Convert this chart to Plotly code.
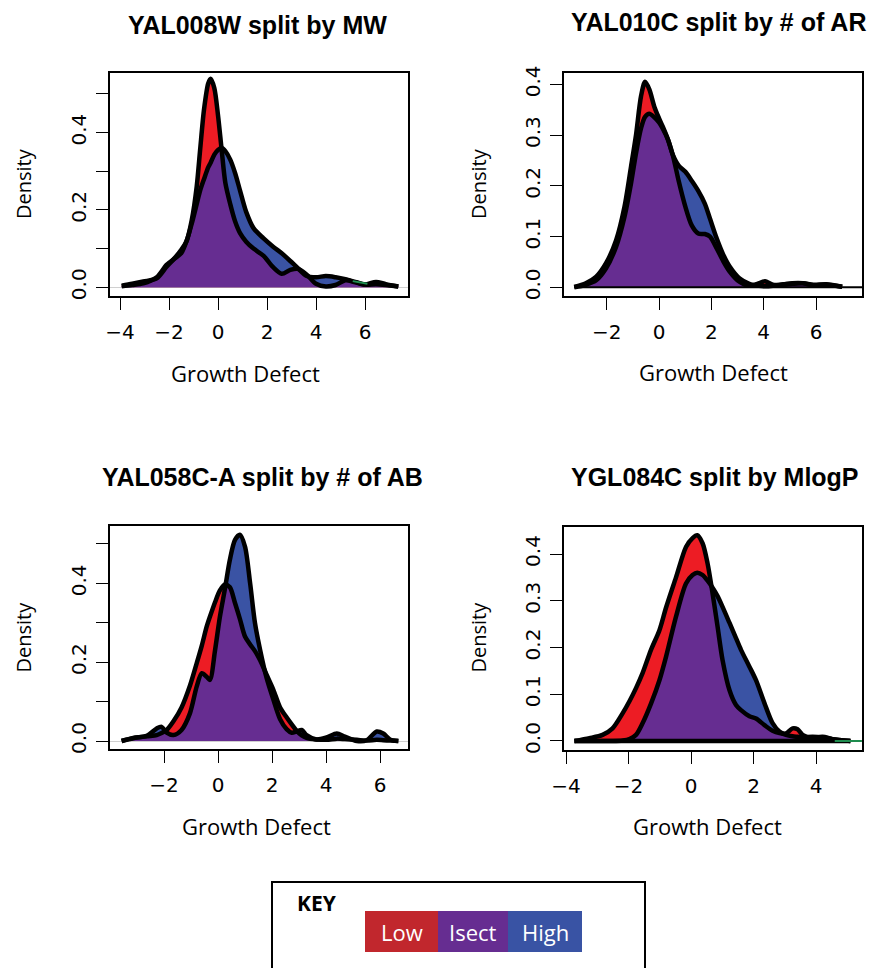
import plotly.graph_objects as go

# ---------------- data ----------------
titles = ["YAL008W split by MW", "YAL010C split by # of AR",
          "YAL058C-A split by # of AB", "YGL084C split by MlogP"]
x_label = "Growth Defect"
y_label = "Density"
key_title = "KEY"
key_labels = ["Low", "Isect", "High"]

# Panel 1 : YAL008W split by MW
p1_x = [-3.93, -3.5, -3.05, -2.5, -2.1, -1.75, -1.5, -1.28, -1.07, -0.87, -0.73, -0.57, -0.4, -0.3,
        -0.15, 0.0, 0.15, 0.3, 0.5, 0.7, 0.9, 1.15, 1.45, 1.85, 2.25, 2.6, 2.95, 3.25, 3.6, 4.0,
        4.4, 4.8, 5.2, 5.6, 6.0, 6.45, 6.85, 7.36]
p1_low = [0.004, 0.009, 0.015, 0.023, 0.053, 0.077, 0.097, 0.12, 0.174, 0.26, 0.355, 0.46, 0.527, 0.539,
          0.515, 0.445, 0.355, 0.27, 0.215, 0.17, 0.14, 0.118, 0.1, 0.082, 0.052, 0.035, 0.045, 0.048,
          0.034, 0.009, 0.002, 0.006, 0.018, 0.013, 0.007, 0.014, 0.008, 0.002]
p1_high = [0.003, 0.006, 0.01, 0.026, 0.058, 0.075, 0.088, 0.12, 0.165, 0.215, 0.25, 0.28, 0.31, 0.322,
           0.343, 0.355, 0.36, 0.352, 0.33, 0.295, 0.25, 0.195, 0.153, 0.127, 0.105, 0.088, 0.068, 0.05,
           0.03, 0.026, 0.029, 0.026, 0.021, 0.014, 0.007, 0.008, 0.006, 0.002]
p1_other_x = [5.5, 5.8, 6.1]
p1_other_y = [0.016, 0.013, 0.009]

# Panel 2 : YAL010C split by # of AR
p2_x = [-3.24, -2.8, -2.4, -2.03, -1.64, -1.32, -1.07, -0.88, -0.69, -0.535, -0.37, -0.18, 0.0, 0.14,
        0.35, 0.52, 0.75, 1.0, 1.25, 1.5, 1.75, 1.95, 2.2, 2.45, 2.7, 3.07, 3.45, 3.83, 4.05, 4.35,
        4.75, 5.1, 5.5, 5.9, 6.4, 7.0]
p2_low = [0.001, 0.008, 0.021, 0.047, 0.093, 0.159, 0.238, 0.30, 0.376, 0.405, 0.39, 0.356, 0.333, 0.317,
          0.29, 0.262, 0.21, 0.16, 0.122, 0.106, 0.105, 0.1, 0.077, 0.052, 0.031, 0.011, 0.003, 0.008,
          0.012, 0.005, 0.005, 0.007, 0.008, 0.004, 0.005, 0.001]
p2_high = [0.0, 0.005, 0.014, 0.037, 0.08, 0.139, 0.205, 0.264, 0.313, 0.336, 0.342, 0.335, 0.325, 0.313,
           0.29, 0.262, 0.24, 0.228, 0.21, 0.19, 0.165, 0.135, 0.097, 0.065, 0.041, 0.018, 0.007, 0.003,
           0.002, 0.003, 0.006, 0.008, 0.008, 0.005, 0.006, 0.001]

# Panel 3 : YAL058C-A split by # of AB
p3_x = [-3.57, -3.14, -2.64, -2.27, -2.09, -1.9, -1.65, -1.35, -1.04, -0.79, -0.6, -0.42, -0.3, -0.11,
        0.07, 0.26, 0.44, 0.63, 0.81, 1.0, 1.19, 1.37, 1.56, 1.8, 2.05, 2.3, 2.54, 2.73, 2.91, 3.1,
        3.28, 3.65, 4.02, 4.4, 4.7, 5.14, 5.51, 5.88, 6.12, 6.37, 6.68]
p3_low = [0.0, 0.007, 0.012, 0.015, 0.02, 0.028, 0.05, 0.085, 0.14, 0.197, 0.242, 0.29, 0.315, 0.352,
          0.382, 0.397, 0.39, 0.35, 0.31, 0.265, 0.245, 0.228, 0.205, 0.168, 0.13, 0.085, 0.06, 0.042,
          0.026, 0.014, 0.008, 0.004, 0.003, 0.006, 0.005, 0.003, 0.001, 0.003, 0.002, 0.001, 0.0]
p3_high = [0.0, 0.008, 0.013, 0.032, 0.036, 0.021, 0.015, 0.028, 0.07, 0.138, 0.172, 0.163, 0.155, 0.23,
           0.315, 0.387, 0.46, 0.51, 0.523, 0.493, 0.4, 0.299, 0.231, 0.16, 0.105, 0.055, 0.03, 0.021,
           0.024, 0.028, 0.015, 0.004, 0.009, 0.019, 0.011, 0.0, 0.002, 0.024, 0.019, 0.004, 0.0]

# Panel 4 : YGL084C split by MlogP
p4_x = [-3.73, -3.25, -2.83, -2.51, -2.19, -1.97, -1.76, -1.55, -1.28, -1.01, -0.8, -0.48, -0.16, 0.05,
        0.2, 0.37, 0.53, 0.69, 0.85, 1.01, 1.23, 1.44, 1.6, 1.87, 2.08, 2.35, 2.61, 2.83, 3.04, 3.25,
        3.41, 3.57, 3.89, 4.21, 4.53, 5.1]
p4_low = [0.0, 0.006, 0.013, 0.027, 0.059, 0.085, 0.113, 0.145, 0.195, 0.237, 0.285, 0.35, 0.415, 0.434,
          0.44, 0.423, 0.38, 0.316, 0.245, 0.173, 0.109, 0.077, 0.066, 0.053, 0.048, 0.034, 0.022, 0.017,
          0.016, 0.027, 0.025, 0.013, 0.006, 0.009, 0.004, 0.0]
p4_high = [0.0, 0.0, 0.0, 0.0, 0.001, 0.004, 0.013, 0.038, 0.08, 0.13, 0.18, 0.266, 0.337, 0.355,
           0.36, 0.355, 0.343, 0.328, 0.31, 0.287, 0.253, 0.22, 0.195, 0.159, 0.13, 0.081, 0.038, 0.02,
           0.013, 0.01, 0.009, 0.008, 0.009, 0.008, 0.004, 0.0]
p4_other_x = [4.6, 5.47]
p4_other_y = [0.0, 0.0]

p1_xticks = [-4, -2, 0, 2, 4, 6]
p2_xticks = [-2, 0, 2, 4, 6]
p3_xticks = [-2, 0, 2, 4, 6]
p4_xticks = [-4, -2, 0, 2, 4]
p1_yticks = [0.0, 0.1, 0.2, 0.3, 0.4, 0.5]
p1_ylabels = ["0.0", "", "0.2", "", "0.4", ""]
p2_yticks = [0.0, 0.1, 0.2, 0.3, 0.4]
p2_ylabels = ["0.0", "0.1", "0.2", "0.3", "0.4"]
p3_yticks = [0.0, 0.1, 0.2, 0.3, 0.4, 0.5]
p3_ylabels = ["0.0", "", "0.2", "", "0.4", ""]
p4_yticks = [0.0, 0.1, 0.2, 0.3, 0.4]
p4_ylabels = ["0.0", "0.1", "0.2", "0.3", "0.4"]

# ---------------- styling / layout ----------------
W, H = 872, 968
RED, PURPLE, BLUE, GREEN = "#ED1C24", "#662D91", "#3A53A4", "#1E8C4E"
KEY_COLORS = ["#C1272D", "#662D91", "#3953A4"]
TICK_FONT = dict(family="DejaVu Sans", size=20, color="black")
TITLE_FONT = dict(family="Liberation Sans, Arial", size=25, color="black")
LAB_FONT = "Open Sans"


def fx(p):
    return p / W


def fy(p):
    return 1 - p / H


panels = [
    dict(x=p1_x, low=p1_low, high=p1_high, other=(p1_other_x, p1_other_y),
         box=(110, 408, 73, 296), xr=(-4.408, 7.755), yr=(-0.0225, 0.554),
         xt=p1_xticks, yt=p1_yticks, yl=p1_ylabels, base="gray",
         title_c=(257.5, 25), xl_c=(246, 373), yl_c=(23, 184)),
    dict(x=p2_x, low=p2_low, high=p2_high, other=None,
         box=(564, 862, 73, 296), xr=(-3.632, 7.758), yr=(-0.0171, 0.4223),
         xt=p2_xticks, yt=p2_yticks, yl=p2_ylabels, base="black_right",
         title_c=(718, 22), xl_c=(713.5, 372), yl_c=(478, 184)),
    dict(x=p3_x, low=p3_low, high=p3_high, other=None,
         box=(110, 408, 526, 749), xr=(-4.0, 7.037), yr=(-0.0203, 0.5454),
         xt=p3_xticks, yt=p3_yticks, yl=p3_ylabels, base="gray",
         title_c=(262.5, 476.7), xl_c=(256, 826), yl_c=(23, 637.5)),
    dict(x=p4_x, low=p4_low, high=p4_high, other=(p4_other_x, p4_other_y),
         box=(564, 862, 527, 750), xr=(-4.064, 5.472), yr=(-0.0193, 0.4578),
         xt=p4_xticks, yt=p4_yticks, yl=p4_ylabels, base="black_span",
         title_c=(714.5, 476.7), xl_c=(707, 826), yl_c=(478, 637.5)),
]

fig = go.Figure()
layout = dict(width=W, height=H, margin=dict(l=0, r=0, t=0, b=0, autoexpand=False), autosize=False,
              paper_bgcolor="white", plot_bgcolor="white", showlegend=False)
annotations = []
shapes = []


def minus(v):
    s = f"{v:g}"
    return s.replace("-", "\u2212")


for i, p in enumerate(panels, start=1):
    xa = "x" if i == 1 else f"x{i}"
    ya = "y" if i == 1 else f"y{i}"
    x0, x1, y0, y1 = p["box"]
    xs = p["x"]
    lo = p["low"]
    hi = p["high"]
    both = [min(a, b) for a, b in zip(lo, hi)]
    spl = dict(shape="spline", smoothing=0.8)

    common = dict(xaxis=xa, yaxis=ya, hoverinfo="skip", showlegend=False, mode="lines")
    fig.add_trace(go.Scatter(x=xs, y=lo, fill="tozeroy", fillcolor=RED,
                             line=dict(color=RED, width=0, **spl), **common))
    fig.add_trace(go.Scatter(x=xs, y=hi, fill="tozeroy", fillcolor=BLUE,
                             line=dict(color=BLUE, width=0, **spl), **common))
    fig.add_trace(go.Scatter(x=xs, y=both, fill="tozeroy", fillcolor=PURPLE,
                             line=dict(color=PURPLE, width=0, **spl), **common))
    if p["base"] == "black_right":
        fig.add_trace(go.Scatter(x=[xs[0], p["xr"][1]], y=[0, 0],
                                 line=dict(color="black", width=2), **common))
    if p["base"] == "black_span":
        fig.add_trace(go.Scatter(x=[xs[0], xs[-1]], y=[0, 0],
                                 line=dict(color="black", width=4.5), **common))
    fig.add_trace(go.Scatter(x=xs, y=lo, line=dict(color="black", width=4.5, **spl), **common))
    fig.add_trace(go.Scatter(x=xs, y=hi, line=dict(color="black", width=4.5, **spl), **common))
    if p["other"] is not None:
        fig.add_trace(go.Scatter(x=p["other"][0], y=p["other"][1],
                                 line=dict(color=GREEN, width=2), **common))

    axis_common = dict(ticks="outside", ticklen=12, tickwidth=1.3, tickcolor="black",
                       showline=True, linecolor="black", linewidth=1.5, mirror=True,
                       showgrid=False, tickfont=TICK_FONT, fixedrange=True, automargin=False)
    layout["xaxis" if i == 1 else f"xaxis{i}"] = dict(
        domain=[fx(x0), fx(x1)], anchor=ya, range=list(p["xr"]),
        tickmode="array", tickvals=p["xt"], ticktext=[minus(v) for v in p["xt"]],
        zeroline=False, ticklabelstandoff=5, **axis_common)
    layout["yaxis" if i == 1 else f"yaxis{i}"] = dict(
        domain=[fy(y1), fy(y0)], anchor=xa, range=list(p["yr"]),
        tickmode="array", tickvals=p["yt"], ticktext=p["yl"], tickangle=-90,
        zeroline=(p["base"] == "gray"), zerolinecolor="#d0d0d0", zerolinewidth=1,
        ticklabelstandoff=2, **axis_common)

    tx, ty = p["title_c"]
    annotations.append(dict(text=f"<b>{titles[i-1]}</b>", x=fx(tx), y=fy(ty), xref="paper", yref="paper",
                            xanchor="center", yanchor="middle", showarrow=False, font=TITLE_FONT))
    lx, ly = p["xl_c"]
    annotations.append(dict(text=x_label, x=fx(lx), y=fy(ly), xref="paper", yref="paper",
                            xanchor="center", yanchor="middle", showarrow=False,
                            font=dict(family=LAB_FONT, size=22, color="black")))
    dx, dy = p["yl_c"]
    annotations.append(dict(text=y_label, x=fx(dx), y=fy(dy), xref="paper", yref="paper",
                            xanchor="center", yanchor="middle", showarrow=False, textangle=-90,
                            font=dict(family=LAB_FONT, size=20, color="black")))

# ---------------- key ----------------
shapes.append(dict(type="rect", xref="paper", yref="paper", x0=fx(272), x1=fx(645),
                   y0=-0.05, y1=fy(882), line=dict(color="black", width=2), fillcolor="white"))
annotations.append(dict(text=f"<b>{key_title}</b>", x=fx(317), y=fy(903), xref="paper", yref="paper",
                        xanchor="center", yanchor="middle", showarrow=False,
                        font=dict(family=LAB_FONT, size=21, color="black")))
key_edges = [365, 438, 508, 582]
for j, lab in enumerate(key_labels):
    a, b = key_edges[j], key_edges[j + 1]
    shapes.append(dict(type="rect", xref="paper", yref="paper", x0=fx(a), x1=fx(b),
                       y0=fy(952), y1=fy(911), line=dict(width=0), fillcolor=KEY_COLORS[j]))
    annotations.append(dict(text=lab, x=fx((a + b) / 2), y=fy(931.5), xref="paper", yref="paper",
                            xanchor="center", yanchor="middle", showarrow=False,
                            font=dict(family=LAB_FONT, size=22, color="white")))

layout["annotations"] = annotations
layout["shapes"] = shapes
fig.update_layout(**layout)
fig.write_html("out.html", config=dict(displayModeBar=False),
               post_script="document.body.style.margin='0';document.body.style.overflow='hidden';")
